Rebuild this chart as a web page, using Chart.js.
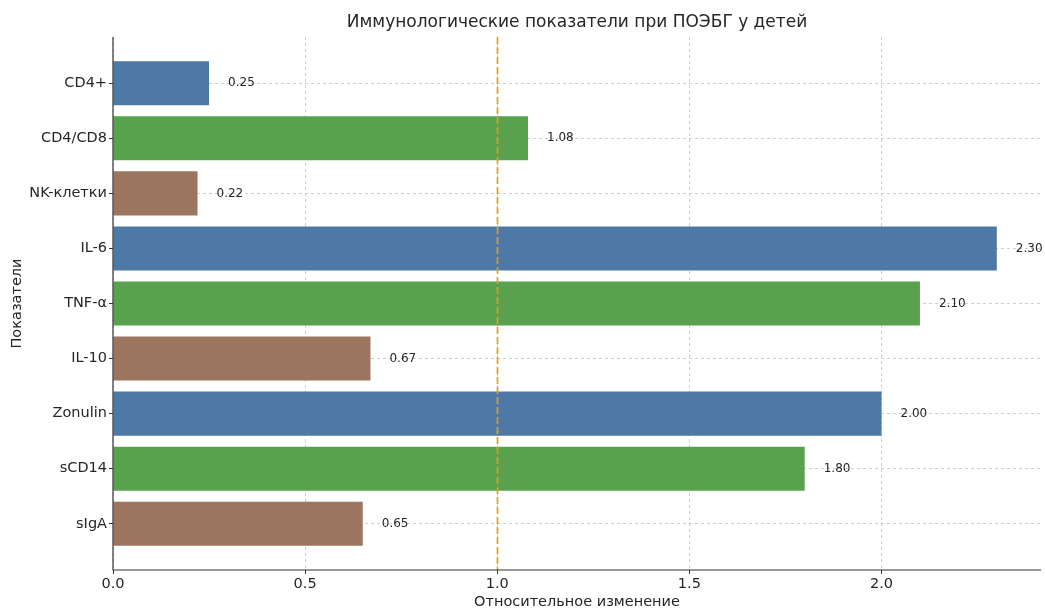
<!DOCTYPE html>
<html>
<head>
<meta charset="utf-8">
<script src="https://cdn.jsdelivr.net/npm/chart.js@4/dist/chart.umd.min.js"></script>
<style>
  html, body { margin: 0; padding: 0; background: #fff; }
  #wrap { width: 1045px; height: 608px; }
</style>
</head>
<body>
<div id="wrap"><canvas id="c" width="1045" height="608"></canvas></div>
<script>
// Immune indicators, relative change
const categories = ['CD4+', 'CD4/CD8', 'NK-клетки', 'IL-6', 'TNF-α', 'IL-10', 'Zonulin', 'sCD14', 'sIgA'];
const values = [0.25, 1.08, 0.22, 2.30, 2.10, 0.67, 2.00, 1.80, 0.65];
const barColors = ['#4e79a7', '#59a14f', '#9c755f', '#4e79a7', '#59a14f', '#9c755f', '#4e79a7', '#59a14f', '#9c755f'];
const xTicks = [0, 0.5, 1.0, 1.5, 2.0];
const referenceValue = 1.0;
const chartTitle = 'Иммунологические показатели при ПОЭБГ у детей';

const FONT = 'DejaVu Sans';
const TEXT = '#262626';
const GRID = 'rgba(176,176,176,0.8)';
const SPINE = '#333333';

// y is a linear index axis so the outer margins around the bars can be set freely
const yMin = -0.4 - 0.05 * (categories.length - 1 + 0.8);
const yMax = categories.length - 1 + 0.4 + 0.05 * (categories.length - 1 + 0.8);
const xMax = Math.max(...values) * 1.05;

const valueLabels = {
  id: 'valueLabels',
  afterDatasetsDraw(chart) {
    const ctx = chart.ctx;
    const meta = chart.getDatasetMeta(0);
    ctx.save();
    ctx.font = '12px "' + FONT + '"';
    ctx.fillStyle = TEXT;
    ctx.textAlign = 'left';
    ctx.textBaseline = 'middle';
    meta.data.forEach((bar, i) => {
      ctx.fillText(values[i].toFixed(2), bar.x + 19, bar.y);
    });
    ctx.restore();
  }
};

// solid left/bottom spines, dashed reference line and a title centred over the plot area
const overlay = {
  id: 'overlay',
  afterDraw(chart) {
    const { ctx, chartArea, scales } = chart;
    ctx.save();
    const x = Math.round(scales.x.getPixelForValue(referenceValue)) + 0.5;
    ctx.strokeStyle = '#dea016';
    ctx.lineWidth = 1.7;
    ctx.setLineDash([7, 3]);
    ctx.beginPath();
    ctx.moveTo(x, chartArea.top);
    ctx.lineTo(x, chartArea.bottom);
    ctx.stroke();

    ctx.setLineDash([]);
    ctx.strokeStyle = SPINE;
    ctx.lineWidth = 1.2;
    ctx.beginPath();
    ctx.moveTo(chartArea.left, chartArea.top);
    ctx.lineTo(chartArea.left, chartArea.bottom);
    ctx.lineTo(chartArea.right, chartArea.bottom);
    ctx.stroke();

    ctx.font = '17px "' + FONT + '"';
    ctx.fillStyle = TEXT;
    ctx.textAlign = 'center';
    ctx.textBaseline = 'middle';
    ctx.fillText(chartTitle, (chartArea.left + chartArea.right) / 2, 23);
    ctx.restore();
  }
};

new Chart(document.getElementById('c'), {
  type: 'bar',
  data: {
    datasets: [{
      data: values.map((v, i) => ({ x: v, y: i })),
      backgroundColor: barColors,
      borderWidth: 0,
      categoryPercentage: 0.8,
      barPercentage: 1.0
    }]
  },
  options: {
    indexAxis: 'y',
    responsive: false,
    animation: false,
    layout: { padding: { left: 4, right: 4, top: 37, bottom: 0 } },
    plugins: {
      legend: { display: false },
      tooltip: { enabled: false },
      title: { display: false }
    },
    scales: {
      x: {
        type: 'linear',
        min: 0,
        max: xMax,
        z: 1,
        afterBuildTicks(scale) { scale.ticks = xTicks.map(v => ({ value: v })); },
        afterFit(scale) { scale.height = 38; },
        ticks: {
          color: TEXT,
          font: { family: FONT, size: 14.5 },
          padding: 2,
          callback: v => Number(v).toFixed(1)
        },
        grid: {
          color: GRID,
          lineWidth: 0.8,
          tickLength: 4,
          tickColor: SPINE,
          tickWidth: 1
        },
        border: { display: false, dash: [3, 3] },
        title: {
          display: true,
          text: 'Относительное изменение',
          color: TEXT,
          font: { family: FONT, size: 14.5 },
          padding: { top: 0, bottom: -3 }
        }
      },
      y: {
        type: 'linear',
        reverse: true,
        min: yMin,
        max: yMax,
        offset: false,
        z: 1,
        afterBuildTicks(scale) { scale.ticks = categories.map((_, i) => ({ value: i })); },
        afterFit(scale) { scale.width = 109; },
        ticks: {
          color: TEXT,
          font: { family: FONT, size: 14.5 },
          padding: 2,
          callback: v => categories[v]
        },
        grid: {
          offset: false,
          color: GRID,
          lineWidth: 0.8,
          tickLength: 4,
          tickColor: SPINE,
          tickWidth: 1
        },
        border: { display: false, dash: [3, 3] },
        title: {
          display: true,
          text: 'Показатели',
          color: TEXT,
          font: { family: FONT, size: 14.5 },
          padding: { top: 5, bottom: 0 }
        }
      }
    }
  },
  plugins: [valueLabels, overlay]
});
</script>
</body>
</html>
